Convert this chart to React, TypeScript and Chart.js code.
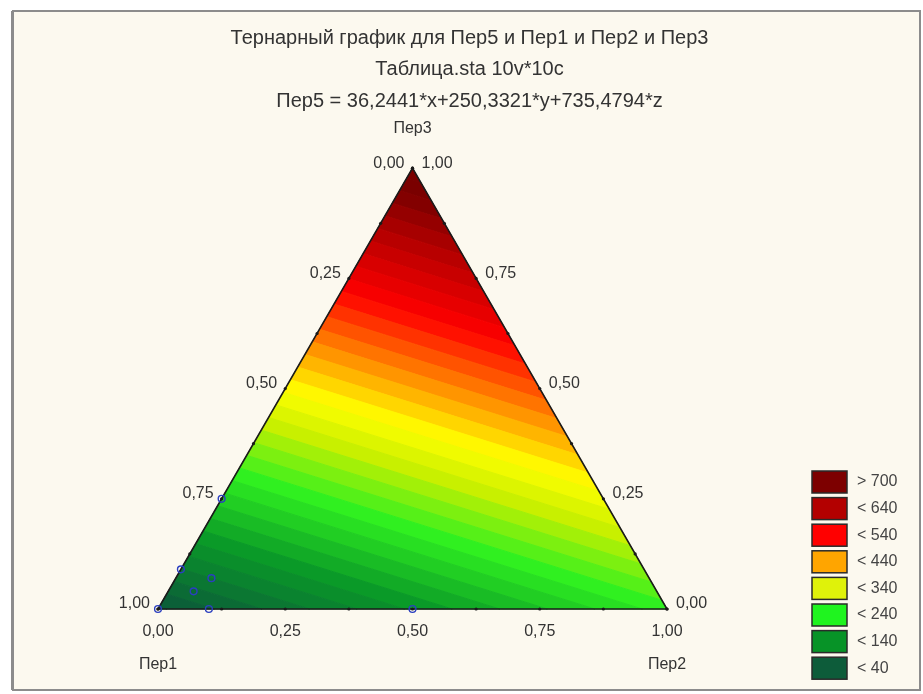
import React, { useEffect, useRef } from "react";
import { Chart, registerables } from "chart.js";

Chart.register(...registerables);

// ---------- data ----------
const titleLines = [
  "Тернарный график для Пер5 и Пер1 и Пер2 и Пер3",
  "Таблица.sta 10v*10c",
  "Пер5 = 36,2441*x+250,3321*y+735,4794*z",
];
const vertexNames = ["Пер1", "Пер2", "Пер3"];
const coefPer1 = 36.2441;
const coefPer2 = 250.3321;
const coefPer3 = 735.4794;

const majorTicks = [0, 0.25, 0.5, 0.75, 1];
const majorTickLabels = ["0,00", "0,25", "0,50", "0,75", "1,00"];
const minorTicks = [0.125, 0.375, 0.625, 0.875];

// observed cases (Пер1, Пер2, Пер3 fractions)
const casesPer1 = [1.0, 0.9, 0.5, 0.91, 0.86, 0.91, 0.75];
const casesPer2 = [0.0, 0.1, 0.5, 0.0, 0.07, 0.05, 0.0];
const casesPer3 = [0.0, 0.0, 0.0, 0.09, 0.07, 0.04, 0.25];

// contour band edges
const contourLevels = [
  0, 20, 40, 60, 80, 100, 120, 140, 160, 180, 200, 220, 240, 260, 280, 300,
  320, 340, 360, 380, 400, 420, 440, 460, 480, 500, 520, 540, 560, 580, 600,
  620, 640, 660, 680, 700, 720, 740, 760,
];
const rampLevels = [40, 150, 250, 330, 385, 440, 540, 640, 700];
const rampColors = [
  "#0b5a3a",
  "#0a9a28",
  "#30f020",
  "#c8f000",
  "#ffff00",
  "#ffa500",
  "#ff0000",
  "#b00000",
  "#7a0000",
];

const legendLabels = ["> 700", "< 640", "< 540", "< 440", "< 340", "< 240", "< 140", "< 40"];
const legendColors = [
  "#7d0000",
  "#b30000",
  "#ff0000",
  "#ffa500",
  "#dff20a",
  "#1ff41f",
  "#079327",
  "#0d5c3a",
];

// ---------- helpers ----------
const S3 = Math.sqrt(3) / 2;
type P = { x: number; y: number };

function toXY(a: number, b: number, c: number): P {
  const s = a + b + c;
  const bb = b / s;
  const cc = c / s;
  return { x: bb + cc / 2, y: cc * S3 };
}

function fAt(p: P): number {
  const c = p.y / S3;
  const b = p.x - c / 2;
  const a = 1 - b - c;
  return coefPer1 * a + coefPer2 * b + coefPer3 * c;
}

function clipPoly(poly: P[], level: number, keepAbove: boolean): P[] {
  const out: P[] = [];
  const inside = (p: P) => (keepAbove ? fAt(p) >= level : fAt(p) <= level);
  for (let i = 0; i < poly.length; i++) {
    const cur = poly[i];
    const prev = poly[(i + poly.length - 1) % poly.length];
    const ci = inside(cur);
    const pi = inside(prev);
    if (ci !== pi) {
      const fp = fAt(prev);
      const fc = fAt(cur);
      const t = (level - fp) / (fc - fp);
      out.push({ x: prev.x + (cur.x - prev.x) * t, y: prev.y + (cur.y - prev.y) * t });
    }
    if (ci) out.push(cur);
  }
  return out;
}

function hexToRgb(h: string) {
  const n = parseInt(h.slice(1), 16);
  return [(n >> 16) & 255, (n >> 8) & 255, n & 255];
}

function rampColor(v: number): string {
  if (v <= rampLevels[0]) return rampColors[0];
  const last = rampLevels.length - 1;
  if (v >= rampLevels[last]) return rampColors[last];
  for (let i = 0; i < last; i++) {
    if (v >= rampLevels[i] && v <= rampLevels[i + 1]) {
      const t = (v - rampLevels[i]) / (rampLevels[i + 1] - rampLevels[i]);
      const a = hexToRgb(rampColors[i]);
      const b = hexToRgb(rampColors[i + 1]);
      const c = a.map((av, k) => Math.round(av + (b[k] - av) * t));
      return `rgb(${c[0]},${c[1]},${c[2]})`;
    }
  }
  return rampColors[last];
}

// ---------- layout constants ----------
const W = 923;
const H = 694;
const UNIT = 509; // px per ternary unit
const ORIGIN_X = 158;
const ORIGIN_Y = 609;
const PAD_LEFT = 16;
const TITLE_SIZE = 20;
const TITLE_LH = 1.58;
const TITLE_PAD_TOP = 22.5;
const AREA_TOP = TITLE_PAD_TOP + titleLines.length * TITLE_SIZE * TITLE_LH;

const FONT = "'Liberation Sans', Arial, sans-serif";

export default function App() {
  const ref = useRef<HTMLCanvasElement | null>(null);

  useEffect(() => {
    if (!ref.current) return;
    const tri: P[] = [toXY(1, 0, 0), toXY(0, 1, 0), toXY(0, 0, 1)];

    const bandSets: any[] = [];
    for (let i = 0; i < contourLevels.length - 1; i++) {
      const lo = contourLevels[i];
      const hi = contourLevels[i + 1];
      let poly = clipPoly(tri, lo, true);
      if (poly.length < 3) continue;
      poly = clipPoly(poly, hi, false);
      if (poly.length < 3) continue;
      const col = rampColor((lo + hi) / 2);
      bandSets.push({
        label: `band ${lo}-${hi}`,
        data: [...poly, poly[0]],
        showLine: true,
        borderColor: col,
        backgroundColor: col,
        borderWidth: 1,
        pointRadius: 0,
        fill: "shape",
        tension: 0,
        order: 10,
      });
    }

    const casePoints = casesPer1.map((a, i) => toXY(a, casesPer2[i], casesPer3[i]));

    const tickPts: P[] = [];
    [...majorTicks, ...minorTicks].forEach((t) => {
      tickPts.push(toXY(1 - t, t, 0)); // bottom edge
      tickPts.push(toXY(t, 0, 1 - t)); // left edge
      tickPts.push(toXY(0, 1 - t, t)); // right edge
    });

    const decor = {
      id: "decor",
      beforeDraw(chart: any) {
        const ctx = chart.ctx;
        ctx.save();
        ctx.fillStyle = "#ffffff";
        ctx.fillRect(0, 0, W, H);
        ctx.fillStyle = "#fcf9ef";
        ctx.fillRect(12, 11, 908, 679);
        ctx.strokeStyle = "#8c8c8c";
        ctx.lineWidth = 2;
        ctx.strokeRect(13, 11, 907, 679);
        ctx.fillStyle = "#8c8c8c";
        ctx.fillRect(11, 11, 3, 679);
        ctx.restore();
      },
      afterDraw(chart: any) {
        const ctx = chart.ctx;
        const xs = chart.scales.x;
        const ys = chart.scales.y;
        const px = (p: P) => ({ x: xs.getPixelForValue(p.x), y: ys.getPixelForValue(p.y) });
        ctx.save();
        ctx.fillStyle = "#333333";
        ctx.font = `16px ${FONT}`;
        ctx.textBaseline = "middle";
        majorTicks.forEach((t, i) => {
          const lab = majorTickLabels[i];
          // bottom: Пер2
          const pb = px(toXY(1 - t, t, 0));
          ctx.textAlign = "center";
          ctx.fillText(lab, pb.x, pb.y + 23);
          // left: Пер1
          const pl = px(toXY(t, 0, 1 - t));
          ctx.textAlign = "right";
          ctx.fillText(lab, pl.x - 8, pl.y - 5);
          // right: Пер3
          const pr = px(toXY(0, 1 - t, t));
          ctx.textAlign = "left";
          ctx.fillText(lab, pr.x + 9, pr.y - 5);
        });
        // vertex names
        const v1 = px(toXY(1, 0, 0));
        const v2 = px(toXY(0, 1, 0));
        const v3 = px(toXY(0, 0, 1));
        ctx.textAlign = "center";
        ctx.fillText(vertexNames[0], v1.x, v1.y + 56);
        ctx.fillText(vertexNames[1], v2.x, v2.y + 56);
        ctx.fillText(vertexNames[2], v3.x, v3.y - 40);

        // legend
        const lx = 812;
        const ly0 = 471;
        const step = 26.6;
        legendLabels.forEach((lab, i) => {
          const y = ly0 + i * step;
          ctx.fillStyle = legendColors[i];
          ctx.fillRect(lx, y, 35, 22);
          ctx.strokeStyle = "#2a2a2a";
          ctx.lineWidth = 1.5;
          ctx.strokeRect(lx, y, 35, 22);
          ctx.fillStyle = "#444444";
          ctx.textAlign = "left";
          ctx.fillText(lab, lx + 45, y + 11);
        });
        ctx.restore();
      },
    };

    const chart = new Chart(ref.current, {
      type: "scatter",
      data: {
        datasets: [
          {
            label: "cases",
            data: casePoints,
            showLine: false,
            pointRadius: 3.4,
            pointBorderWidth: 1.4,
            pointBorderColor: "#2b3fc0",
            pointBackgroundColor: "rgba(0,0,0,0)",
            order: 0,
          },
          {
            label: "ticks",
            data: tickPts,
            showLine: false,
            pointRadius: 1.6,
            pointBorderWidth: 0,
            pointBackgroundColor: "#1a1a1a",
            order: 1,
          },
          {
            label: "outline",
            data: [...tri, tri[0]],
            showLine: true,
            borderColor: "#1b1b1b",
            borderWidth: 1.6,
            pointRadius: 0,
            fill: false,
            order: 2,
          },
          ...bandSets,
        ],
      },
      options: {
        responsive: false,
        animation: false,
        events: [],
        layout: { autoPadding: false, padding: { left: PAD_LEFT, right: 0, top: 0, bottom: 0 } },
        plugins: {
          legend: { display: false },
          tooltip: { enabled: false },
          title: {
            display: true,
            text: titleLines,
            color: "#333333",
            font: { family: FONT, size: TITLE_SIZE, weight: "normal", lineHeight: TITLE_LH },
            padding: { top: TITLE_PAD_TOP, bottom: 0 },
          },
        },
        scales: {
          x: {
            type: "linear",
            display: false,
            min: -(ORIGIN_X - PAD_LEFT) / UNIT,
            max: (W - ORIGIN_X) / UNIT,
          },
          y: {
            type: "linear",
            display: false,
            min: -(H - ORIGIN_Y) / UNIT,
            max: (ORIGIN_Y - AREA_TOP) / UNIT,
          },
        },
      },
      plugins: [decor],
    } as any);

    return () => chart.destroy();
  }, []);

  return (
    <div style={{ position: "absolute", left: 0, top: 0, width: W, height: H }}>
      <canvas ref={ref} width={W} height={H} style={{ display: "block" }} />
    </div>
  );
}
